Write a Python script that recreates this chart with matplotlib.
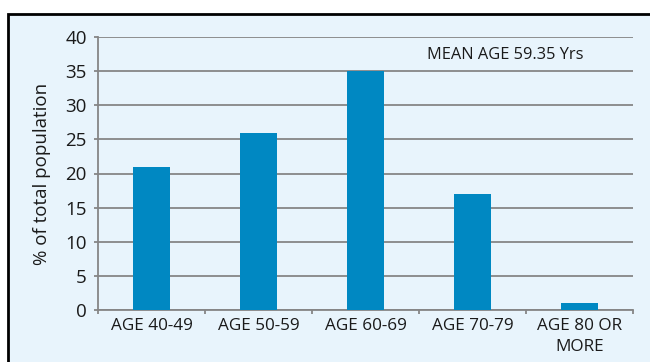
import matplotlib
matplotlib.use("Agg")
import matplotlib.pyplot as plt
from matplotlib.patches import Rectangle

age_groups = ["AGE 40-49", "AGE 50-59", "AGE 60-69", "AGE 70-79", "AGE 80 OR\nMORE"]
percent = [21, 26, 35, 17, 1]
y_ticks = [0, 5, 10, 15, 20, 25, 30, 35, 40]
mean_note = "MEAN AGE 59.35 Yrs"

BG = "#E8F4FC"
BAR = "#0088C2"
GRID = "#868686"


def main():
    plt.rcParams["font.family"] = ["Open Sans", "DejaVu Sans"]
    fig = plt.figure(figsize=(6.5, 3.62), dpi=100, facecolor="white")

    # framed panel, open to the right and bottom
    fig.patches.append(Rectangle((8 / 650, -0.1), 1.2, 1.1 - 14 / 362,
                                 transform=fig.transFigure, facecolor=BG,
                                 edgecolor="black", linewidth=2, zorder=-10))

    ax = fig.add_axes([98 / 650, 52 / 362, 535 / 650, 273 / 362])
    ax.set_facecolor("none")
    x = range(len(age_groups))
    ax.bar(x, percent, width=0.34, color=BAR, zorder=3)

    ax.set_xlim(-0.5, len(age_groups) - 0.5)
    ax.set_ylim(0, 40)
    ax.set_yticks(y_ticks)
    ax.yaxis.grid(True, color=GRID, linewidth=1.3, zorder=1)
    ax.set_axisbelow(True)

    ax.set_xticks(list(x))
    ax.set_xticklabels(age_groups, fontsize=12.3, color="#1a1a1a",
                       linespacing=1.45)
    ax.set_xticks([i - 0.5 for i in range(len(age_groups) + 1)], minor=True)
    ax.tick_params(axis="x", which="major", length=0, pad=5.5)
    ax.tick_params(axis="x", which="minor", length=3, color=GRID, width=1.3)
    ax.tick_params(axis="y", length=3, color=GRID, width=1.3,
                   labelsize=13.5, labelcolor="#1a1a1a", pad=5)

    for side in ["top", "right"]:
        ax.spines[side].set_visible(False)
    for side in ["left", "bottom"]:
        ax.spines[side].set_color(GRID)
        ax.spines[side].set_linewidth(1.3)

    ax.set_ylabel("% of total population", fontsize=13.5, color="#1a1a1a",
                  labelpad=10)
    ax.text(3.31, 37.4, mean_note, fontsize=11.8, color="#1a1a1a",
            ha="center", va="center")

    fig.savefig("out.png", dpi=100, facecolor="white")


if __name__ == "__main__":
    main()
